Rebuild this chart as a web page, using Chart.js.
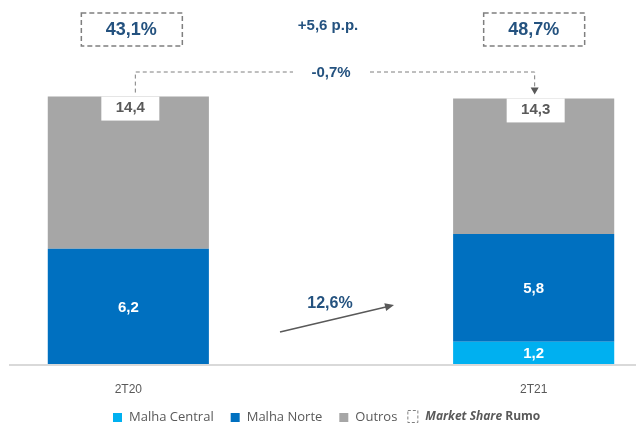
<!DOCTYPE html>
<html>
<head>
<meta charset="utf-8">
<script src="https://cdn.jsdelivr.net/npm/chart.js@4"></script>
<style>
  body { margin: 0; background: #fff; }
  #wrap { width: 636px; height: 424px; }
</style>
</head>
<body>
<div id="wrap"><canvas id="volChart" width="636" height="424"></canvas></div>
<script>
// quarters (middle slot is an empty gap between the two bars)
const categories = ['2T20', '', '2T21'];
const malhaCentral = [null, null, 1.2];
const malhaNorte = [6.2, null, 5.8];
const outros = [8.2, null, 7.3];
const totals = [14.4, null, 14.3];
const marketShare = [43.1, null, 48.7];
const shareChange = '+5,6 p.p.';
const totalChange = -0.7;
const norteCentralChange = 12.6;

const darkBlue = '#24527f';
const grey = '#595959';

function fmt(v, d) {
    return v.toFixed(d === undefined ? 1 : d).replace('.', ',');
}

// custom drawing: value labels, totals, market share boxes, arrows, legend
const overlay = {
    id: 'overlay',
    afterDatasetsDraw(chart) {
        const ctx = chart.ctx;
        const area = chart.chartArea;
        ctx.save();

        // baseline
        ctx.fillStyle = '#d9d9d9';
        ctx.fillRect(9, area.bottom, 627, 2);

        // values inside segments
        ctx.textAlign = 'center';
        ctx.textBaseline = 'middle';
        ctx.font = 'bold 15px "Liberation Sans", Arial, sans-serif';
        ctx.fillStyle = '#ffffff';
        [0, 1].forEach(di => {
            const meta = chart.getDatasetMeta(di);
            meta.data.forEach((bar, i) => {
                const v = chart.data.datasets[di].data[i];
                if (v == null) return;
                ctx.fillText(fmt(v), bar.x, (bar.y + bar.base) / 2 + 1);
            });
        });

        // total labels in white notch at bar top
        const topMeta = chart.getDatasetMeta(2);
        const barX = [];
        topMeta.data.forEach((bar, i) => {
            if (totals[i] == null) return;
            barX[i] = bar.x;
            ctx.fillStyle = '#ffffff';
            ctx.fillRect(bar.x - 27, bar.y, 58, 24);
            ctx.fillStyle = grey;
            ctx.font = 'bold 15px "Liberation Sans", Arial, sans-serif';
            ctx.fillText(fmt(totals[i]), bar.x + 2, bar.y + 11);
        });

        // market share boxes
        ctx.strokeStyle = '#7f7f7f';
        ctx.lineWidth = 1.5;
        ctx.setLineDash([5, 3]);
        marketShare.forEach((m, i) => {
            if (m == null) return;
            const cx = barX[i] + (i === 0 ? 3 : 0);
            ctx.strokeRect(cx - 50, 13, 101, 33);
            ctx.fillStyle = darkBlue;
            ctx.font = 'bold 18px "Liberation Sans", Arial, sans-serif';
            ctx.fillText(fmt(m) + '%', cx, 30);
        });

        // share change text
        const midX = chart.scales.x.getPixelForValue(1);
        ctx.fillStyle = darkBlue;
        ctx.font = 'bold 15px "Liberation Sans", Arial, sans-serif';
        ctx.fillText(shareChange, midX - 3, 26);

        // dashed connector for total change
        const lx = barX[0] + 7, rx = barX[2] + 1;
        const ly = 72;
        ctx.lineWidth = 1;
        ctx.setLineDash([4, 3]);
        ctx.beginPath();
        ctx.moveTo(lx, topMeta.data[0].y - 4);
        ctx.lineTo(lx, ly);
        ctx.lineTo(midX - 38, ly);
        ctx.moveTo(midX + 39, ly);
        ctx.lineTo(rx, ly);
        ctx.lineTo(rx, topMeta.data[2].y - 12);
        ctx.stroke();
        ctx.setLineDash([]);
        ctx.fillStyle = '#595959';
        ctx.beginPath();
        ctx.moveTo(rx - 4, topMeta.data[2].y - 11);
        ctx.lineTo(rx + 4, topMeta.data[2].y - 11);
        ctx.lineTo(rx, topMeta.data[2].y - 4);
        ctx.closePath();
        ctx.fill();
        ctx.fillStyle = darkBlue;
        ctx.fillText(fmt(totalChange) + '%', midX, ly + 1);

        // arrow for malha norte + central change
        const ax0 = midX - 51, ay0 = 332, ax1 = midX + 63, ay1 = 305;
        ctx.strokeStyle = '#595959';
        ctx.lineWidth = 1.5;
        ctx.beginPath();
        ctx.moveTo(ax0, ay0);
        ctx.lineTo(ax1 - 6, ay1 + 1.5);
        ctx.stroke();
        const ang = Math.atan2(ay1 - ay0, ax1 - ax0);
        ctx.fillStyle = '#595959';
        ctx.beginPath();
        ctx.moveTo(ax1, ay1);
        ctx.lineTo(ax1 - 9 * Math.cos(ang) + 4 * Math.sin(ang), ay1 - 9 * Math.sin(ang) - 4 * Math.cos(ang));
        ctx.lineTo(ax1 - 9 * Math.cos(ang) - 4 * Math.sin(ang), ay1 - 9 * Math.sin(ang) + 4 * Math.cos(ang));
        ctx.closePath();
        ctx.fill();
        ctx.fillStyle = darkBlue;
        ctx.font = 'bold 16px "Liberation Sans", Arial, sans-serif';
        ctx.fillText(fmt(norteCentralChange) + '%', midX - 1, 304);

        // legend
        ctx.textAlign = 'left';
        ctx.textBaseline = 'middle';
        const ly2 = 417;
        let x = 113;
        chart.data.datasets.forEach(ds => {
            ctx.fillStyle = ds.backgroundColor;
            ctx.fillRect(x, ly2 - 4, 9, 9);
            ctx.fillStyle = grey;
            ctx.font = '13px "Open Sans", sans-serif';
            ctx.fillText(ds.label, x + 16, ly2);
            x += 16 + ctx.measureText(ds.label).width + 17;
        });
        x -= 7;
        ctx.strokeStyle = '#7f7f7f';
        ctx.lineWidth = 1;
        ctx.setLineDash([3, 2]);
        ctx.strokeRect(x + 0.5, ly2 - 6.5, 10, 12);
        ctx.setLineDash([]);
        x += 18;
        ctx.fillStyle = grey;
        ctx.font = 'italic bold 12px "Open Sans", sans-serif';
        ctx.fillText('Market Share', x, ly2);
        x += ctx.measureText('Market Share ').width;
        ctx.font = 'bold 12px "Open Sans", sans-serif';
        ctx.fillText('Rumo', x, ly2);

        ctx.restore();
    }
};

const ctx = document.getElementById('volChart').getContext('2d');
new Chart(ctx, {
    type: 'bar',
    data: {
        labels: categories,
        datasets: [
            { label: 'Malha Central', data: malhaCentral, backgroundColor: '#00b0f0' },
            { label: 'Malha Norte', data: malhaNorte, backgroundColor: '#0070c0' },
            { label: 'Outros', data: outros, backgroundColor: '#a6a6a6' }
        ]
    },
    options: {
        responsive: false,
        animation: false,
        layout: { padding: { left: 27, right: 1, top: 0, bottom: 0 } },
        datasets: { bar: { categoryPercentage: 1, barPercentage: 0.795 } },
        plugins: {
            legend: { display: false },
            tooltip: { enabled: false }
        },
        scales: {
            x: {
                stacked: true,
                grid: { display: false },
                border: { display: false },
                ticks: {
                    autoSkip: false,
                    maxRotation: 0,
                    color: grey,
                    font: { family: '"Liberation Sans", Arial, sans-serif', size: 12 },
                    padding: 10
                },
                afterFit(scale) { scale.height = 60; }
            },
            y: {
                stacked: true,
                display: false,
                min: 0,
                max: 19.6
            }
        }
    },
    plugins: [overlay]
});
</script>
</body>
</html>
